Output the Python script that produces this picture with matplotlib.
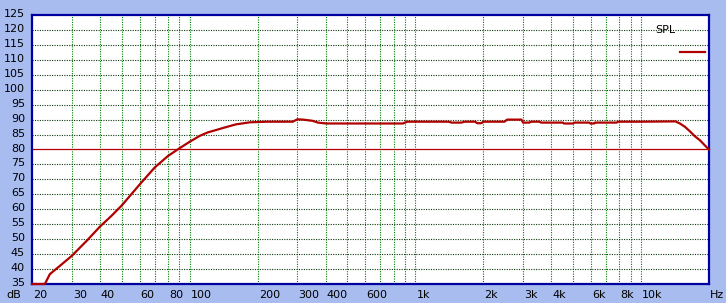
import numpy as np
import matplotlib.pyplot as plt

# SPL response
freq_hz = [20, 22.8, 24, 27, 30, 35, 40, 45, 50, 60, 70, 80, 90, 100, 111, 120,
           132, 145, 160, 185, 220, 286, 300, 318, 350, 370, 390, 405, 600,
           880, 920, 1400, 1450, 1600, 1650, 1840, 1880, 1960, 2000, 2480,
           2550, 2950, 3000, 3200, 3250, 3550, 3600, 4500, 4550, 5000, 5050,
           5900, 5950, 6200, 6250, 7800, 7900, 10000, 14200, 14860, 15640,
           16450, 17330, 18230, 19220, 20000]
spl_db = [35.0, 35.0, 38.3, 41.5, 44.4, 49.5, 54.2, 57.8, 61.3, 68.3, 74.0, 77.8,
          80.4, 82.6, 84.6, 85.7, 86.6, 87.5, 88.4, 89.1, 89.3, 89.3, 90.1,
          90.0, 89.6, 89.0, 88.8, 88.7, 88.7, 88.7, 89.3, 89.3, 89.0, 89.0,
          89.3, 89.3, 88.8, 88.8, 89.3, 89.3, 90.0, 90.0, 89.0, 89.0, 89.3,
          89.3, 89.0, 89.0, 88.7, 88.7, 89.0, 89.0, 88.7, 88.7, 89.0, 89.0,
          89.3, 89.3, 89.4, 88.7, 87.6, 86.1, 84.4, 83.1, 81.3, 80.0]

y_ticks = list(range(35, 130, 5))
x_grid = [30, 40, 50, 60, 70, 80, 90, 100, 200, 300, 400, 500, 600, 700, 800,
          900, 1000, 2000, 3000, 4000, 5000, 6000, 7000, 8000, 9000, 10000]
x_labels = {20: "20", 30: "30", 40: "40", 60: "60", 80: "80", 100: "100",
            200: "200", 300: "300", 400: "400", 600: "600", 1000: "1k",
            2000: "2k", 3000: "3k", 4000: "4k", 6000: "6k", 8000: "8k",
            10000: "10k"}

bg = '#a8bcf0'
frame = '#0000a0'
red = '#b00000'

fig = plt.figure(figsize=(7.26, 3.03), dpi=100, facecolor=bg)
ax = fig.add_axes([32 / 726, 1 - 284 / 303, 677 / 726, 269 / 303])
ax.set_facecolor('white')
ax.set_xscale('log')
ax.set_xlim(20, 20000)
ax.set_ylim(35, 125)

for f in x_grid:
    ax.axvline(f, color='#008000', lw=0.8, ls=(0, (1, 1.2)), zorder=1)
for y in y_ticks[1:-1]:
    if y == 80:
        ax.axhline(y, color=red, lw=0.9, zorder=2)
    else:
        ax.axhline(y, color='#0c3a0c', lw=0.8, ls=(0, (1, 1.2)), zorder=1)

ax.plot(freq_hz, spl_db, color=red, lw=1.6, zorder=4, clip_on=False)

ax.set_xticks([])
ax.set_yticks([])
ax.minorticks_off()
for s in ax.spines.values():
    s.set_color(frame)
    s.set_linewidth(1.6)
    s.set_zorder(3)

fs = 8
# tick labels drawn as text so they can sit like the original
for y in y_ticks:
    ax.annotate(str(y), xy=(0, y), xycoords=('axes fraction', 'data'),
                xytext=(-7, 1), textcoords='offset pixels',
                ha='right', va='center', fontsize=fs, color='black')
ax.annotate("dB", xy=(0, 0), xycoords='axes fraction', xytext=(-26, -6),
            textcoords='offset pixels', ha='left', va='top', fontsize=fs)
for f, lab in x_labels.items():
    ax.annotate(lab, xy=(f, 0), xycoords=('data', 'axes fraction'),
                xytext=(1, -6), textcoords='offset pixels',
                ha='left', va='top', fontsize=fs)
ax.annotate("Hz", xy=(1, 0), xycoords='axes fraction', xytext=(1, -6),
            textcoords='offset pixels', ha='left', va='top', fontsize=fs)

# legend
ax.text(655 / 726, 1 - 30 / 303, "SPL", transform=fig.transFigure,
        ha='left', va='center', fontsize=fs)
fig.add_artist(plt.Line2D([680 / 726, 705 / 726], [1 - 52 / 303, 1 - 52 / 303],
                          color=red, lw=1.6, transform=fig.transFigure))

fig.savefig("out.png", dpi=100, facecolor=bg)
